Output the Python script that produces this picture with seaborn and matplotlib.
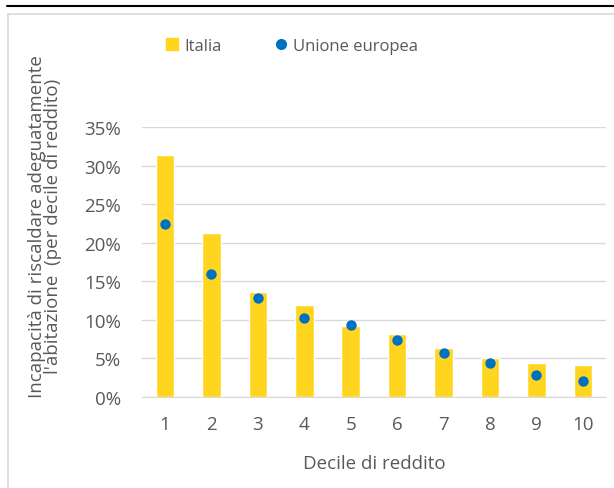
import pandas as pd
import matplotlib.pyplot as plt
import seaborn as sns
from matplotlib.lines import Line2D
from matplotlib.patches import Rectangle
from matplotlib.ticker import PercentFormatter

# dati
decili = ['1', '2', '3', '4', '5', '6', '7', '8', '9', '10']
italia = [31.4, 21.3, 13.6, 11.9, 9.2, 8.2, 6.4, 5.1, 4.4, 4.1]
ue = [22.4, 16.0, 12.8, 10.3, 9.3, 7.4, 5.7, 4.4, 2.8, 2.1]

df = pd.DataFrame({'decile': decili, 'Italia': italia, 'Unione europea': ue})

giallo = '#FFD520'
blu = '#0070C0'
grigio = '#595959'

sns.set_style('white')
plt.rcParams['font.family'] = ['Open Sans', 'DejaVu Sans']

fig = plt.figure(figsize=(6.14, 4.89), dpi=100)
ax = fig.add_axes([0.231, 0.186, 0.756, 0.552])

sns.barplot(data=df, x='decile', y='Italia', color=giallo, width=0.4,
            saturation=1, ax=ax, zorder=2)
sns.stripplot(data=df, x='decile', y='Unione europea', color=blu, jitter=False,
              size=7.5, linewidth=0, ax=ax, zorder=3)

ax.set_ylim(0, 35)
ax.set_yticks(range(0, 36, 5))
ax.yaxis.set_major_formatter(PercentFormatter(decimals=0))
ax.grid(axis='y', color='#d9d9d9', linewidth=1, zorder=0)
ax.set_axisbelow(True)
for s in ['top', 'right', 'left']:
    ax.spines[s].set_visible(False)
ax.spines['bottom'].set_color('#d9d9d9')
ax.tick_params(axis='both', length=0, labelsize=13.5, labelcolor=grigio)
ax.tick_params(axis='y', pad=15)
ax.tick_params(axis='x', pad=13)

ax.set_xlabel('Decile di reddito', fontsize=13.5, color=grigio, labelpad=15)
ax.set_ylabel("Incapacità di riscaldare adeguatamente\nl'abitazione  (per decile di reddito)",
              fontsize=13.5, color=grigio, linespacing=0.88)
ax.yaxis.set_label_coords(-0.171, 0.637)

handles = [
    Line2D([], [], marker='s', linestyle='none', color=giallo, markersize=8),
    Line2D([], [], marker='o', linestyle='none', color=blu, markersize=7),
]
fig.legend(handles, ['Italia', 'Unione europea'], loc='center',
           bbox_to_anchor=(0.474, 0.904), ncol=2, frameon=False,
           fontsize=12, labelcolor=grigio, handletextpad=0.2,
           columnspacing=3.1, handlelength=1.0)

# cornice e linea superiore
fig.patches.append(Rectangle((8 / 614, -0.05), 1.1, 1 - 15 / 489 + 0.05,
                             transform=fig.transFigure, fill=False,
                             edgecolor='#d9d9d9', linewidth=1.2))
fig.lines.append(Line2D([7 / 614, 1], [1 - 7 / 489, 1 - 7 / 489],
                        transform=fig.transFigure, color='black', linewidth=1.5))

fig.savefig('out.png', dpi=100)
